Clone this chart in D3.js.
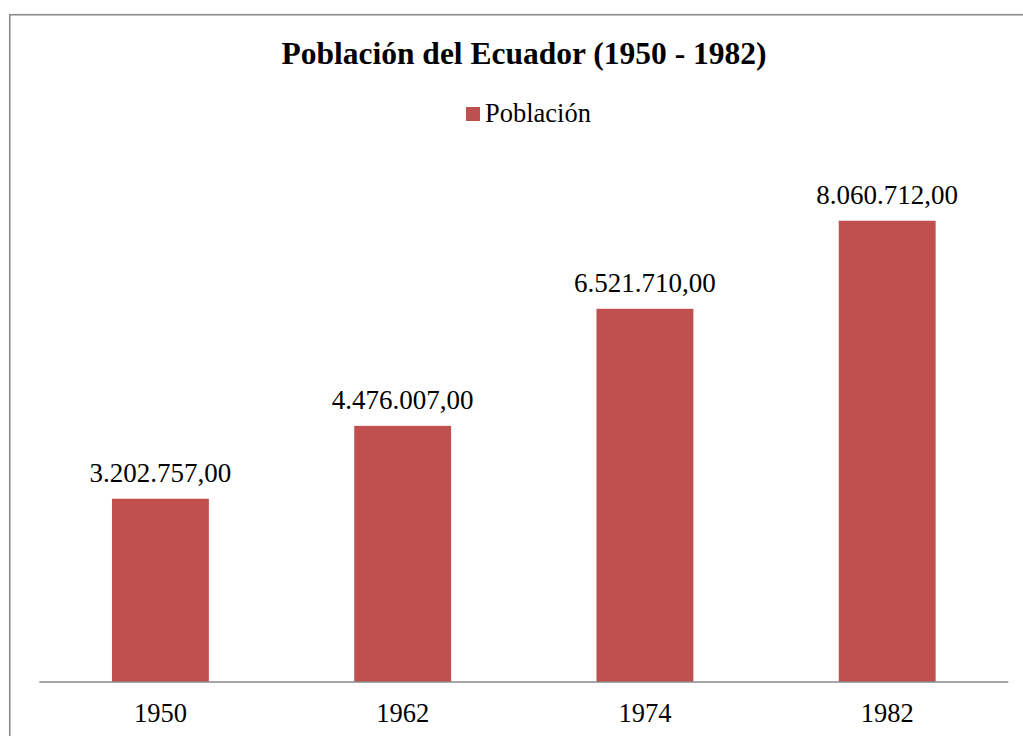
<!DOCTYPE html>
<html>
<head>
<meta charset="utf-8">
<script src="https://cdn.jsdelivr.net/npm/d3@7"></script>
<style>
html,body{margin:0;padding:0;background:#fff;}
svg{display:block;}
</style>
</head>
<body>
<svg id="chart" width="1023" height="736"></svg>
<script>
const categories = ["1950", "1962", "1974", "1982"];
const values = [3202757, 4476007, 6521710, 8060712];
const seriesName = "Población";
const title = "Población del Ecuador (1950 - 1982)";

const FONT = "Liberation Serif";
const svg = d3.select("#chart");
const barColor = "#C0504D";

// outer border
svg.append("rect")
  .attr("x", 9.75).attr("y", 14.75)
  .attr("width", 1040).attr("height", 760)
  .attr("fill", "none").attr("stroke", "#8a8a8a").attr("stroke-width", 1.6);

// title
svg.append("text")
  .attr("x", 524).attr("y", 64)
  .attr("text-anchor", "middle")
  .attr("font-family", FONT)
  .attr("font-size", 31.5).attr("font-weight", "bold")
  .attr("fill", "#000")
  .text(title);

// legend
const lg = svg.append("g");
lg.append("rect").attr("x", 466).attr("y", 107).attr("width", 14).attr("height", 14).attr("fill", barColor);
lg.append("text").attr("x", 485).attr("y", 122).attr("font-family", FONT).attr("font-size", 26.5).attr("fill", "#000").text(seriesName);

const x = d3.scaleBand().domain(categories).range([39.3, 1008.3]).paddingInner(0.6).paddingOuter(0.3);
const y = d3.scaleLinear().domain([0, 9000000]).range([682, 167]);

svg.selectAll("rect.bar")
  .data(categories)
  .join("rect")
  .attr("class", "bar")
  .attr("x", d => x(d))
  .attr("width", x.bandwidth())
  .attr("y", (d, i) => y(values[i]))
  .attr("height", (d, i) => y(0) - y(values[i]))
  .attr("fill", barColor);

const fmt = v => {
  const s = String(Math.round(v));
  return s.replace(/\B(?=(\d{3})+(?!\d))/g, ".") + ",00";
};

svg.selectAll("text.val")
  .data(categories)
  .join("text")
  .attr("class", "val")
  .attr("x", d => x(d) + x.bandwidth() / 2)
  .attr("y", (d, i) => y(values[i]) - 17)
  .attr("text-anchor", "middle")
  .attr("font-family", FONT)
  .attr("font-size", 27)
  .attr("fill", "#000")
  .text((d, i) => fmt(values[i]));

// x axis
const xAxis = d3.axisBottom(x).tickSize(0).tickPadding(0);
const ax = svg.append("g").attr("transform", "translate(0,682)").call(xAxis);
ax.attr("font-family", FONT);
ax.select(".domain").attr("stroke", "#8a8a8a").attr("stroke-width", 1.6).attr("d", "M39.3,0H1008.3");
ax.selectAll(".tick text")
  .attr("font-family", FONT)
  .attr("font-size", 26.5)
  .attr("fill", "#000")
  .attr("dy", null)
  .attr("y", 40);
</script>
</body>
</html>
